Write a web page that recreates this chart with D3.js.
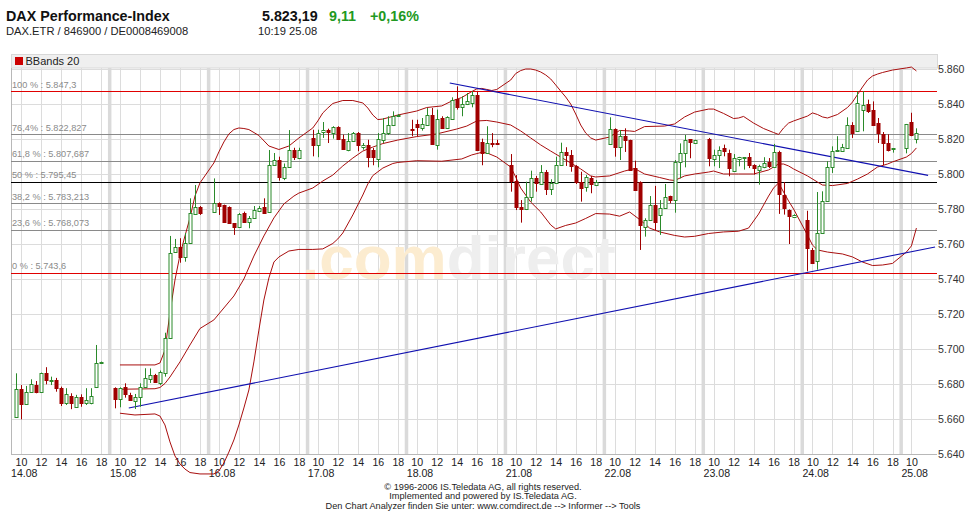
<!DOCTYPE html>
<html><head><meta charset="utf-8">
<script src="https://cdn.jsdelivr.net/npm/d3@7"></script>
<style>body{margin:0;background:#fff}svg{display:block}text{font-family:"Liberation Sans",Arial,sans-serif}</style>
</head><body><svg id="c" width="968" height="512"></svg>
<script>
const days = ["14.08","15.08","16.08","17.08","18.08","21.08","22.08","23.08","24.08","25.08"];
const slotsPerDay = [18,18,18,18,18,18,18,18,18,3];
const hourTicks = [10,12,14,16,18];
const yTicks = [5640,5660,5680,5700,5720,5740,5760,5780,5800,5820,5840,5860];
const yTickLabels = ["5.640","5.660","5.680","5.700","5.720","5.740","5.760","5.780","5.800","5.820","5.840","5.860"];
const fibLevels = [5847.3,5822.827,5807.687,5795.45,5783.213,5768.073,5743.6];
const fibLabels = ["100 % : 5.847,3","76,4% : 5.822,827","61,8 % : 5.807,687","50 % : 5.795,45","38,2 % : 5.783,213","23,6 % : 5.768,073","0 % : 5.743,6"];
const fibColors = ["#e00000","#8a8a8a","#8a8a8a","#000000","#8a8a8a","#8a8a8a","#e00000"];

// half-hour candles, 09:30 .. 18:00 per day
const O = [
5661.0,5677.0,5668.4,5675.6,5679.4,5675.6,5686.1,5681.7,5682.3,5677.6,5669.0,5673.2,5667.0,5672.4,5669.0,5669.3,5678.5,5692.0,
5677.6,5671.3,5678.1,5673.7,5670.5,5672.3,5678.1,5682.9,5685.4,5680.6,5686.5,5706.1,5755.3,5758.5,5752.4,5760.8,5777.2,5781.0,
5778.5,5783.6,5782.3,5781.3,5771.8,5769.6,5777.9,5772.8,5774.7,5779.0,5781.0,5778.5,5805.1,5808.0,5797.5,5804.2,5813.7,5809.2,
5820.6,5816.4,5824.0,5825.3,5823.4,5826.7,5820.2,5813.9,5818.7,5823.4,5815.3,5816.4,5813.9,5808.8,5819.6,5823.4,5827.8,5833.7,
5825.7,5828.6,5826.3,5828.2,5833.5,5816.8,5832.0,5826.3,5831.6,5843.0,5838.1,5840.0,5840.6,5845.3,5818.3,5812.0,5817.7,5817.9,
5805.1,5796.2,5781.3,5779.8,5786.7,5797.5,5794.3,5801.3,5791.3,5794.7,5805.1,5812.8,5810.9,5804.6,5795.6,5792.4,5797.5,5793.9,
5817.2,5825.6,5815.3,5821.7,5819.4,5803.3,5795.6,5769.9,5773.7,5782.3,5776.6,5780.4,5787.4,5785.1,5807.0,5811.8,5819.8,5817.5,
5820.2,5808.8,5810.7,5814.9,5812.0,5801.6,5808.8,5809.4,5809.6,5805.3,5802.5,5803.8,5806.7,5803.8,5812.6,5788.2,5779.6,5775.3,
5773.9,5756.7,5750.1,5766.3,5784.4,5803.8,5813.0,5813.3,5814.9,5827.8,5824.4,5836.8,5840.0,5836.8,5829.1,5823.0,5817.6,5814.3,
5814.7,5829.9,5820.0];
const Hi = [
5686.1,5679.4,5678.9,5682.7,5681.7,5686.5,5689.6,5684.2,5683.5,5678.5,5677.6,5674.7,5673.8,5674.1,5677.6,5677.6,5702.3,5692.8,
5678.1,5678.1,5680.4,5675.0,5674.3,5680.4,5689.0,5688.9,5685.8,5687.7,5709.3,5764.6,5762.9,5763.3,5766.3,5786.1,5793.7,5781.7,
5797.5,5783.8,5782.5,5781.5,5772.0,5777.7,5778.5,5776.0,5781.7,5781.7,5786.1,5813.7,5812.0,5809.9,5806.0,5825.1,5815.0,5815.0,
5825.3,5825.3,5829.7,5825.9,5827.3,5827.3,5822.5,5823.4,5824.0,5824.0,5817.7,5819.6,5814.9,5823.4,5832.0,5833.0,5835.8,5834.2,
5831.0,5831.0,5832.0,5837.7,5837.7,5836.8,5833.0,5833.0,5843.8,5850.1,5844.4,5846.3,5847.3,5846.9,5820.2,5827.3,5823.4,5819.6,
5811.4,5799.4,5785.1,5795.6,5801.9,5798.9,5805.1,5802.3,5797.0,5809.9,5817.9,5815.3,5813.7,5805.1,5801.3,5799.4,5798.9,5796.6,
5832.4,5826.1,5825.1,5826.1,5819.6,5807.6,5795.8,5774.7,5787.4,5793.2,5785.1,5794.3,5787.6,5808.0,5817.5,5822.3,5820.0,5819.6,
5820.6,5813.9,5815.8,5816.8,5813.9,5811.4,5809.8,5809.7,5812.0,5805.6,5805.3,5809.6,5809.1,5817.2,5813.3,5795.4,5779.8,5777.0,
5779.0,5757.7,5789.7,5790.1,5807.3,5815.8,5821.6,5817.2,5832.4,5829.6,5847.3,5847.3,5842.5,5841.5,5832.0,5824.0,5822.7,5814.8,
5828.6,5835.0,5826.1];
const Lo = [
5661.0,5659.8,5668.0,5675.0,5674.7,5675.0,5679.8,5679.4,5675.6,5667.4,5668.0,5665.6,5667.0,5667.0,5668.0,5668.4,5677.7,5691.8,
5666.1,5666.7,5672.2,5670.5,5665.7,5667.0,5678.1,5680.6,5681.0,5679.4,5684.2,5706.1,5755.0,5749.3,5749.9,5760.5,5777.0,5776.6,
5778.3,5776.6,5772.0,5771.5,5765.2,5769.5,5772.6,5769.0,5774.3,5778.8,5777.7,5778.3,5805.0,5796.2,5796.5,5803.5,5808.0,5808.5,
5810.1,5809.6,5820.6,5817.7,5820.2,5819.6,5813.9,5813.0,5818.3,5813.0,5813.9,5803.8,5805.0,5803.8,5817.7,5822.3,5827.4,5833.5,
5821.6,5821.6,5824.8,5828.0,5817.0,5813.9,5825.9,5825.7,5831.5,5836.8,5833.0,5839.4,5838.1,5813.3,5805.0,5811.5,5815.3,5816.8,
5789.9,5779.4,5772.2,5779.4,5784.2,5789.9,5794.0,5788.0,5788.0,5794.5,5805.0,5804.6,5801.3,5794.3,5784.2,5789.9,5789.0,5793.1,
5817.0,5809.9,5808.0,5812.6,5802.0,5790.6,5756.6,5764.2,5773.5,5768.0,5765.2,5780.0,5783.3,5777.9,5797.5,5803.8,5809.0,5817.3,
5804.4,5804.4,5803.4,5810.1,5798.7,5801.3,5804.4,5802.5,5803.4,5799.6,5793.9,5803.3,5803.4,5803.5,5777.2,5776.8,5760.0,5775.1,
5744.4,5748.6,5745.3,5766.0,5784.2,5800.6,5812.8,5813.0,5814.7,5820.6,5824.2,5824.4,5834.9,5828.0,5817.7,5805.1,5812.9,5812.2,
5811.8,5821.6,5817.5];
const C = [
5677.0,5668.4,5675.6,5679.8,5675.6,5686.1,5682.3,5682.5,5677.6,5669.3,5674.1,5669.0,5672.8,5669.0,5670.9,5673.3,5691.8,5692.4,
5671.3,5677.6,5674.1,5670.9,5672.6,5678.1,5683.3,5684.9,5681.0,5686.8,5706.1,5755.0,5758.1,5752.4,5760.8,5777.9,5781.0,5777.7,
5783.3,5781.7,5772.6,5771.8,5769.7,5777.0,5772.8,5774.7,5779.4,5780.4,5777.9,5805.1,5808.0,5798.5,5804.2,5813.7,5809.9,5813.9,
5816.4,5823.4,5825.3,5824.0,5826.7,5820.2,5814.5,5818.7,5823.4,5816.4,5816.4,5809.6,5809.6,5820.2,5823.4,5828.2,5833.0,5834.0,
5825.0,5826.7,5828.6,5833.5,5817.2,5831.6,5826.3,5832.4,5842.5,5838.1,5840.0,5841.5,5845.3,5813.9,5812.0,5817.7,5817.1,5817.4,
5796.2,5781.3,5779.8,5786.7,5797.5,5794.7,5801.3,5791.3,5794.7,5805.1,5812.8,5810.9,5804.6,5795.6,5791.8,5798.1,5794.3,5795.4,
5825.6,5815.6,5821.7,5819.4,5802.3,5790.9,5770.9,5773.7,5782.3,5772.8,5780.4,5787.0,5785.1,5807.0,5811.8,5819.4,5818.5,5819.4,
5809.1,5810.7,5813.9,5812.9,5803.4,5809.1,5809.6,5809.6,5805.0,5803.4,5804.4,5806.3,5804.4,5812.6,5788.6,5780.6,5775.8,5776.8,
5757.7,5749.1,5766.3,5784.4,5803.8,5813.0,5813.9,5815.3,5827.8,5823.4,5840.6,5839.6,5835.8,5828.2,5823.4,5817.6,5813.7,5814.7,
5828.4,5822.3,5823.2];

const bbUpper = [["15.08 10:00",5690.9],["15.08 13:30",5690.9],["15.08 14:00",5692.0],["15.08 14:30",5699.4],["15.08 15:00",5720.6],["15.08 15:30",5739.4],["15.08 16:00",5753.7],["15.08 16:30",5764.6],["15.08 17:00",5774.9],["15.08 17:30",5787.4],["15.08 18:00",5794.9],
["16.08 09:30",5806.3],["16.08 10:00",5812.6],["16.08 10:30",5818.3],["16.08 11:00",5822.9],["16.08 11:30",5825.4],["16.08 12:00",5826.3],["16.08 12:30",5826.0],["16.08 13:00",5825.4],["16.08 14:00",5822.0],["16.08 15:00",5816.0],["16.08 16:00",5814.0],["16.08 17:00",5816.0],["16.08 18:00",5820.6],
["17.08 09:30",5826.3],["17.08 10:00",5830.3],["17.08 10:30",5834.9],["17.08 11:00",5837.7],["17.08 11:30",5840.3],["17.08 12:30",5842.0],["17.08 13:30",5842.0],["17.08 14:30",5840.6],["17.08 15:00",5837.7],["17.08 15:30",5833.7],["17.08 16:00",5831.1],["17.08 16:30",5831.4],["17.08 18:00",5833.7],
["18.08 10:00",5836.0],["18.08 11:00",5838.0],["18.08 12:30",5838.9],["18.08 13:30",5841.7],["18.08 14:30",5843.7],["18.08 15:30",5847.1],["18.08 16:00",5848.6],["18.08 16:30",5848.9],["18.08 17:00",5848.3],["18.08 17:30",5847.7],["18.08 18:00",5848.3],
["21.08 09:30",5853.7],["21.08 10:00",5857.4],["21.08 10:30",5859.1],["21.08 11:00",5860.0],["21.08 11:30",5860.0],["21.08 12:00",5859.4],["21.08 12:30",5858.3],["21.08 13:00",5856.6],["21.08 13:30",5854.3],["21.08 14:00",5850.9],["21.08 14:30",5847.4],["21.08 15:00",5844.0],["21.08 15:30",5840.0],["21.08 16:00",5834.3],["21.08 16:30",5828.0],["21.08 17:00",5823.4],["21.08 17:30",5820.6],["21.08 18:00",5819.4],
["22.08 09:30",5821.1],["22.08 10:30",5824.9],["22.08 11:30",5824.6],["22.08 12:00",5824.3],["22.08 13:00",5827.1],["22.08 15:00",5827.4],["22.08 16:00",5828.6],["22.08 17:00",5832.6],["22.08 18:00",5835.4],
["23.08 09:30",5837.1],["23.08 10:00",5837.1],["23.08 11:00",5834.6],["23.08 12:00",5831.7],["23.08 12:30",5832.0],["23.08 13:00",5832.9],["23.08 14:00",5829.1],["23.08 15:00",5826.0],["23.08 16:00",5823.7],["23.08 16:30",5822.6],["23.08 17:00",5826.3],["23.08 17:30",5829.1],["23.08 18:00",5830.3],
["24.08 09:30",5833.1],["24.08 10:00",5834.9],["24.08 10:30",5834.0],["24.08 11:00",5832.6],["24.08 11:30",5832.0],["24.08 12:30",5834.0],["24.08 13:30",5838.0],["24.08 14:00",5841.1],["24.08 14:30",5845.4],["24.08 15:00",5849.7],["24.08 15:30",5853.7],["24.08 16:00",5856.0],["24.08 16:30",5857.1],["24.08 17:00",5858.0],["24.08 18:00",5859.4],
["25.08 09:30",5860.6],["25.08 10:00",5861.1],["25.08 10:30",5858.9]];

const bbMiddle = [["15.08 10:00",5677.0],["15.08 13:30",5677.3],["15.08 14:00",5678.0],["15.08 14:30",5680.3],["15.08 15:00",5684.0],["15.08 15:30",5688.3],["15.08 16:00",5692.6],["15.08 17:00",5702.3],["15.08 18:00",5711.7],
["16.08 09:30",5716.6],["16.08 11:30",5730.3],["16.08 12:30",5740.0],["16.08 13:30",5753.1],["16.08 14:30",5764.6],["16.08 15:30",5774.9],["16.08 16:30",5782.9],["16.08 17:30",5787.4],["16.08 18:00",5789.1],
["17.08 09:30",5792.0],["17.08 10:30",5796.0],["17.08 11:30",5799.4],["17.08 12:30",5804.6],["17.08 13:30",5809.1],["17.08 14:30",5813.1],["17.08 15:30",5815.4],["17.08 16:30",5817.4],["17.08 18:00",5819.4],
["18.08 10:00",5821.4],["18.08 12:00",5822.9],["18.08 14:00",5825.7],["18.08 15:00",5827.4],["18.08 16:00",5830.3],["18.08 17:00",5830.6],["18.08 18:00",5829.7],
["21.08 09:30",5828.0],["21.08 10:30",5824.6],["21.08 11:30",5820.6],["21.08 12:30",5816.6],["21.08 13:30",5813.1],["21.08 14:30",5809.7],["21.08 15:30",5806.3],["21.08 16:30",5802.9],["21.08 17:30",5798.9],["21.08 18:00",5798.3],
["22.08 09:30",5798.9],["22.08 11:00",5801.7],["22.08 12:00",5803.1],["22.08 13:00",5800.0],["22.08 14:30",5798.0],["22.08 15:30",5796.6],["22.08 16:00",5796.3],["22.08 17:00",5798.9],["22.08 18:00",5800.0],
["23.08 09:30",5801.1],["23.08 10:00",5801.7],["23.08 11:00",5800.0],["23.08 12:30",5800.0],["23.08 14:00",5800.0],["23.08 15:30",5802.3],["23.08 16:00",5804.0],["23.08 16:30",5805.7],["23.08 17:00",5805.7],["23.08 17:30",5804.6],["23.08 18:00",5802.9],
["24.08 09:30",5798.9],["24.08 10:30",5795.4],["24.08 11:00",5793.7],["24.08 12:00",5793.4],["24.08 13:30",5794.6],["24.08 14:30",5797.1],["24.08 15:30",5800.0],["24.08 16:30",5804.0],["24.08 17:30",5805.7],["24.08 18:00",5806.9],
["25.08 09:30",5809.7],["25.08 10:00",5811.7],["25.08 10:30",5814.9]];

const bbLower = [["15.08 10:00",5663.3],["15.08 11:30",5662.3],["15.08 13:30",5662.9],["15.08 14:00",5661.7],["15.08 14:30",5656.6],["15.08 15:00",5646.9],["15.08 15:30",5638.9],["15.08 16:00",5634.3],["15.08 16:30",5631.4],["15.08 17:00",5629.4],["15.08 18:00",5628.6],
["16.08 09:30",5628.6],["16.08 10:00",5630.3],["16.08 10:30",5634.9],["16.08 11:00",5641.1],["16.08 11:30",5648.0],["16.08 12:00",5656.6],["16.08 12:30",5666.3],["16.08 13:00",5676.6],["16.08 13:30",5692.6],["16.08 14:00",5710.8],["16.08 14:30",5728.0],["16.08 15:00",5740.6],["16.08 15:30",5749.7],["16.08 16:00",5752.6],["16.08 17:00",5756.0],["16.08 18:00",5756.9],
["17.08 09:30",5756.9],["17.08 10:30",5757.2],["17.08 11:30",5760.3],["17.08 12:00",5762.9],["17.08 12:30",5766.3],["17.08 13:30",5776.6],["17.08 14:30",5788.0],["17.08 15:00",5794.3],["17.08 15:30",5799.1],["17.08 16:30",5803.4],["17.08 17:30",5806.0],["17.08 18:00",5806.6],
["18.08 10:00",5807.6],["18.08 12:30",5807.3],["18.08 14:30",5808.6],["18.08 15:30",5810.9],["18.08 16:30",5812.4],["18.08 17:00",5812.1],["18.08 18:00",5809.7],
["21.08 09:30",5804.0],["21.08 10:00",5798.3],["21.08 10:30",5792.0],["21.08 11:30",5784.0],["21.08 12:30",5778.3],["21.08 13:30",5770.9],["21.08 14:00",5768.6],["21.08 15:00",5770.6],["21.08 16:00",5772.0],["21.08 17:00",5774.6],["21.08 18:00",5777.4],
["22.08 09:30",5777.1],["22.08 10:30",5775.9],["22.08 11:30",5778.3],["22.08 12:30",5774.0],["22.08 13:30",5769.1],["22.08 14:30",5766.9],["22.08 16:00",5764.9],["22.08 17:00",5764.0],["22.08 18:00",5764.4],
["23.08 09:30",5766.0],["23.08 11:00",5766.9],["23.08 12:30",5767.3],["23.08 13:30",5769.1],["23.08 14:30",5777.1],["23.08 15:30",5787.4],["23.08 16:00",5792.0],["23.08 16:30",5794.9],["23.08 17:00",5789.7],["23.08 17:30",5784.6],["23.08 18:00",5780.0],
["24.08 09:30",5765.1],["24.08 10:00",5759.4],["24.08 10:30",5756.6],["24.08 11:30",5755.4],["24.08 13:00",5754.3],["24.08 14:00",5752.6],["24.08 15:00",5749.7],["24.08 16:00",5747.7],["24.08 17:00",5748.0],["24.08 18:00",5748.9],
["25.08 09:30",5755.4],["25.08 10:00",5758.9],["25.08 10:30",5769.1]];

const trendSupport = [["15.08 10:53",5666.3],["25.08 12:22",5758.3]];
const trendResistance = [["18.08 13:18",5852.0],["25.08 11:40",5799.2]];

const SESSION = 9.89; // hours shown per trading day on the axis
const svg = d3.select("#c");
const x = d3.scaleLinear().domain([0, 9.39]).range([11, 940]);
const y = d3.scaleLinear().domain([5640, 5860]).range([454, 69]);
const dayU = (d, h) => d + (h - 9) / SESSION;
const tU = s => { const [d, t] = s.split(" "); const [hh, mm] = t.split(":").map(Number); return dayU(days.indexOf(d), hh + mm / 60); };
const px = v => Math.round(v) + 0.5;
const plotL = 11, plotR = 937, plotT = 68, plotB = 454;

// header
svg.append("text").attr("x",6).attr("y",20.5).attr("font-size",14.3).attr("font-weight","bold").attr("fill","#111").text("DAX Performance-Index");
svg.append("text").attr("x",6).attr("y",35).attr("font-size",11.2).attr("fill","#222").text("DAX.ETR  /  846900  /  DE0008469008");
svg.append("text").attr("x",262).attr("y",20.5).attr("font-size",14.3).attr("font-weight","bold").attr("fill","#111").text("5.823,19");
svg.append("text").attr("x",329).attr("y",20.5).attr("font-size",14.3).attr("font-weight","bold").attr("fill","#229922").text("9,11");
svg.append("text").attr("x",370).attr("y",20.5).attr("font-size",14.3).attr("font-weight","bold").attr("fill","#229922").text("+0,16%");
svg.append("text").attr("x",258).attr("y",35).attr("font-size",11.2).attr("fill","#222").text("10:19   25.08");

// legend bar
svg.append("rect").attr("x",plotL+0.5).attr("y",54.5).attr("width",plotR-plotL).attr("height",13.5).attr("fill","#efefef").attr("stroke","#d8d8d8");
svg.append("rect").attr("x",15).attr("y",57).attr("width",8).attr("height",8).attr("fill","#cc0000");
svg.append("text").attr("x",25.5).attr("y",65.3).attr("font-size",11).attr("fill","#222").text("BBands 20");

const lastU = dayU(days.length-1, 9 + 0.5*slotsPerDay[slotsPerDay.length-1]);
// grid
const grid = svg.append("g");
yTicks.forEach(v => grid.append("line").attr("x1",plotL).attr("x2",plotR).attr("y1",px(y(v))).attr("y2",px(y(v))).attr("stroke","#dcdcdc"));
days.forEach((d,i) => hourTicks.forEach(h => { const u = dayU(i,h); if (u <= lastU + 0.01) grid.append("line").attr("x1",px(x(u))).attr("x2",px(x(u))).attr("y1",plotT).attr("y2",plotB).attr("stroke","#dcdcdc"); }));
days.forEach((d,i) => { if (i>0) grid.append("rect").attr("x",x(i)-2).attr("y",plotT).attr("width",3.5).attr("height",plotB-plotT).attr("fill","#dadada"); });

// watermark
const wm = svg.append("text").attr("x",302).attr("y",279).attr("font-size",62).attr("font-weight","bold");
wm.append("tspan").attr("fill","#fcecd0").text(".com");
wm.append("tspan").attr("fill","#eeeeee").text("direct");

// axes lines
svg.append("line").attr("x1",plotL+0.5).attr("x2",plotL+0.5).attr("y1",plotT).attr("y2",plotB).attr("stroke","#b8b8b8");
svg.append("line").attr("x1",plotL).attr("x2",plotR).attr("y1",plotB+0.5).attr("y2",plotB+0.5).attr("stroke","#b8b8b8");

// fibonacci levels
fibLevels.forEach((v,i) => {
  svg.append("rect").attr("x",plotL).attr("y",Math.round(y(v))).attr("width",plotR-plotL).attr("height",1)
    .attr("fill",fibColors[i]).attr("shape-rendering","crispEdges");
  svg.append("text").attr("x",12).attr("y",y(v)-3.5).attr("font-size",9.2).attr("fill","#8a8a8a").text(fibLabels[i]);
});

// y labels
yTicks.forEach((v,i) => svg.append("text").attr("x",938).attr("y",y(v)+4).attr("font-size",10.6).attr("fill","#333").text(yTickLabels[i]));
// x labels
days.forEach((d,i) => {
  hourTicks.forEach(h => { const u = dayU(i,h); if (u <= lastU + 0.01) svg.append("text").attr("x",x(u)+0.5).attr("y",466).attr("text-anchor","middle").attr("font-size",10.6).attr("fill","#222").text(h); });
  svg.append("text").attr("x",x(i)).attr("y",477).attr("font-size",10.6).attr("fill","#222").text(d);
});

// Bollinger bands
const line = d3.line().x(d => x(tU(d[0]))).y(d => y(d[1]));
[bbUpper, bbMiddle, bbLower].forEach(b => svg.append("path").attr("d",line(b)).attr("fill","none").attr("stroke","#a80e0e").attr("stroke-width",1));

// trend lines
[trendSupport, trendResistance].forEach(t => svg.append("path").attr("d",line(t)).attr("fill","none").attr("stroke","#1010b0").attr("stroke-width",1.1));

// candles
const candles = [];
let idx = 0;
days.forEach((d,i) => { for (let k=1;k<=slotsPerDay[i];k++) { candles.push({u: dayU(i, 9 + 0.5*k), o:O[idx], h:Hi[idx], l:Lo[idx], c:C[idx]}); idx++; } });
const cg = svg.append("g");
candles.forEach(c => {
  const up = c.c >= c.o, col = up ? "#2a8a2a" : "#a00000";
  const cx = Math.round(x(c.u));
  cg.append("line").attr("x1",cx+0.5).attr("x2",cx+0.5).attr("y1",y(c.h)).attr("y2",y(c.l)).attr("stroke",col);
  const top = Math.round(y(Math.max(c.o,c.c))), bot = Math.round(y(Math.min(c.o,c.c)));
  cg.append("rect").attr("x",cx-1).attr("y",top+0.5).attr("width",3).attr("height",Math.max(bot-top,1))
    .attr("fill", up ? "#fff" : col).attr("stroke",col);
});

// footer
const foot = ["\u00a9 1996-2006 IS.Teledata AG, all rights reserved.","Implemented and powered by IS.Teledata AG.","Den Chart Analyzer finden Sie unter: www.comdirect.de --> Informer --> Tools"];
foot.forEach((t,i) => svg.append("text").attr("x",483).attr("y",489.5+i*9.6).attr("text-anchor","middle").attr("font-size",9.2).attr("fill","#222").text(t));
</script></body></html>
